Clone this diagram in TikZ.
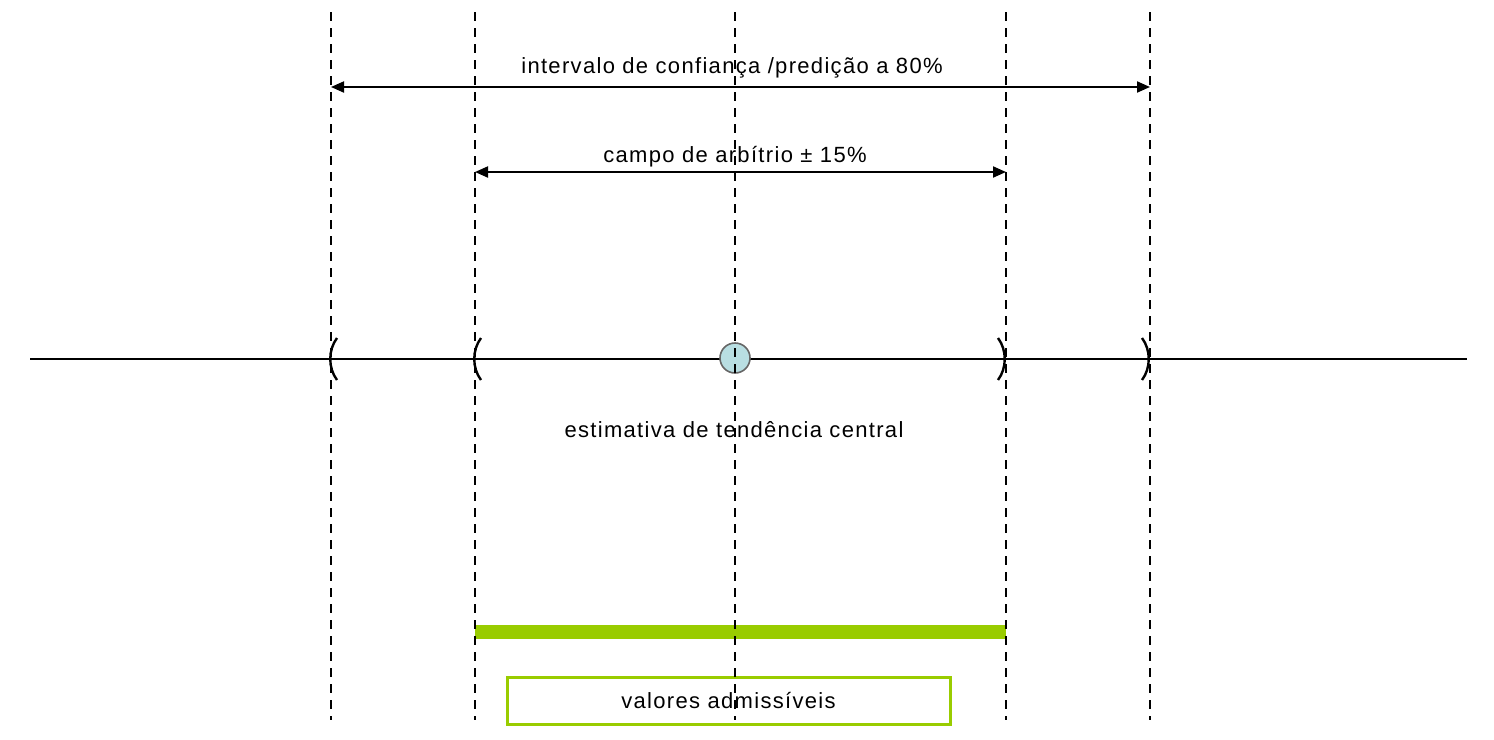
\documentclass[tikz,border=0pt]{standalone}
\usepackage{fontspec}
\setmainfont[LetterSpace=6]{Liberation Sans}
\usepackage{xcolor}
\usetikzlibrary{arrows.meta}
\definecolor{limeGreen}{HTML}{99CC00}
\definecolor{paleBlue}{HTML}{B8DEE2}
\tikzset{
  guide/.style={line width=1pt, dash pattern={on 4.5pt off 3.5pt}},
  span/.style={line width=1pt, {Triangle[length=6.5pt,width=5.5pt]}-{Triangle[length=6.5pt,width=5.5pt]}},
  txt/.style={inner sep=0.75pt, font=\fontsize{11}{13}\selectfont},
}
\begin{document}
\begin{tikzpicture}[x=0.5pt,y=0.5pt,yscale=-1,xscale=1]
    \useasboundingbox (0,0) rectangle (1494,739);

    % Coordinates of the guides
    \coordinate (ga) at (331,12);   \coordinate (gaa) at (331,720);
    \coordinate (gb) at (475,12);   \coordinate (gbb) at (475,720);
    \coordinate (gc) at (735,12);   \coordinate (gcc) at (735,720);
    \coordinate (gd) at (1006,12);  \coordinate (gdd) at (1006,720);
    \coordinate (ge) at (1150,12);  \coordinate (gee) at (1150,720);

    %Straight Lines (axis)
    \coordinate (axl) at (30,359);
    \coordinate (axr) at (1467,359);
    \draw [line width=1pt] (axl) -- (axr) ;

    %Brackets
    \draw [line width=1.2pt] (337,338) .. controls (328,350) and (328,368) .. (337,380) ;
    \draw [line width=1.2pt] (481,338) .. controls (472,350) and (472,368) .. (481,380) ;
    \draw [line width=1.2pt] (998,338) .. controls (1007,350) and (1007,368) .. (998,380) ;
    \draw [line width=1.2pt] (1142,338) .. controls (1151,350) and (1151,368) .. (1142,380) ;

    %Central estimate
    \node [circle, draw=gray!80!black, fill=paleBlue, line width=0.8pt, minimum size=15pt, inner sep=0pt] (est) at (735,358) {};

    %Green bar
    \coordinate (barl) at (475,632);
    \coordinate (barr) at (1006,632);
    \draw [limeGreen, line width=7pt] (barl) -- (barr) ;

    %Box
    \node [draw=limeGreen, line width=1.5pt, minimum width=221.5pt, minimum height=23.5pt, txt] (adm) at (728.5,700.5) {valores admissíveis};

    %Arrows
    \coordinate (ia) at (331,87);  \coordinate (ib) at (1150,87);
    \draw [span] (ia) -- (ib) ;
    \coordinate (ca) at (475,172); \coordinate (cb) at (1006,172);
    \draw [span] (ca) -- (cb) ;

    %Dashed guides
    \draw [guide] (ga) -- (gaa) ;
    \draw [guide] (gb) -- (gbb) ;
    \draw [guide] (gc) -- (gcc) ;
    \draw [guide] (gd) -- (gdd) ;
    \draw [guide] (ge) -- (gee) ;

    % Text Node
    \node [txt] (lbint) at (732,68) {intervalo de confiança /predição a 80\%};
    % Text Node
    \node [txt] (lbcam) at (735,157) {campo de arbítrio ± 15\%};
    % Text Node
    \node [txt] (lbest) at (734,430) {estimativa de tendência central};
\end{tikzpicture}
\end{document}
